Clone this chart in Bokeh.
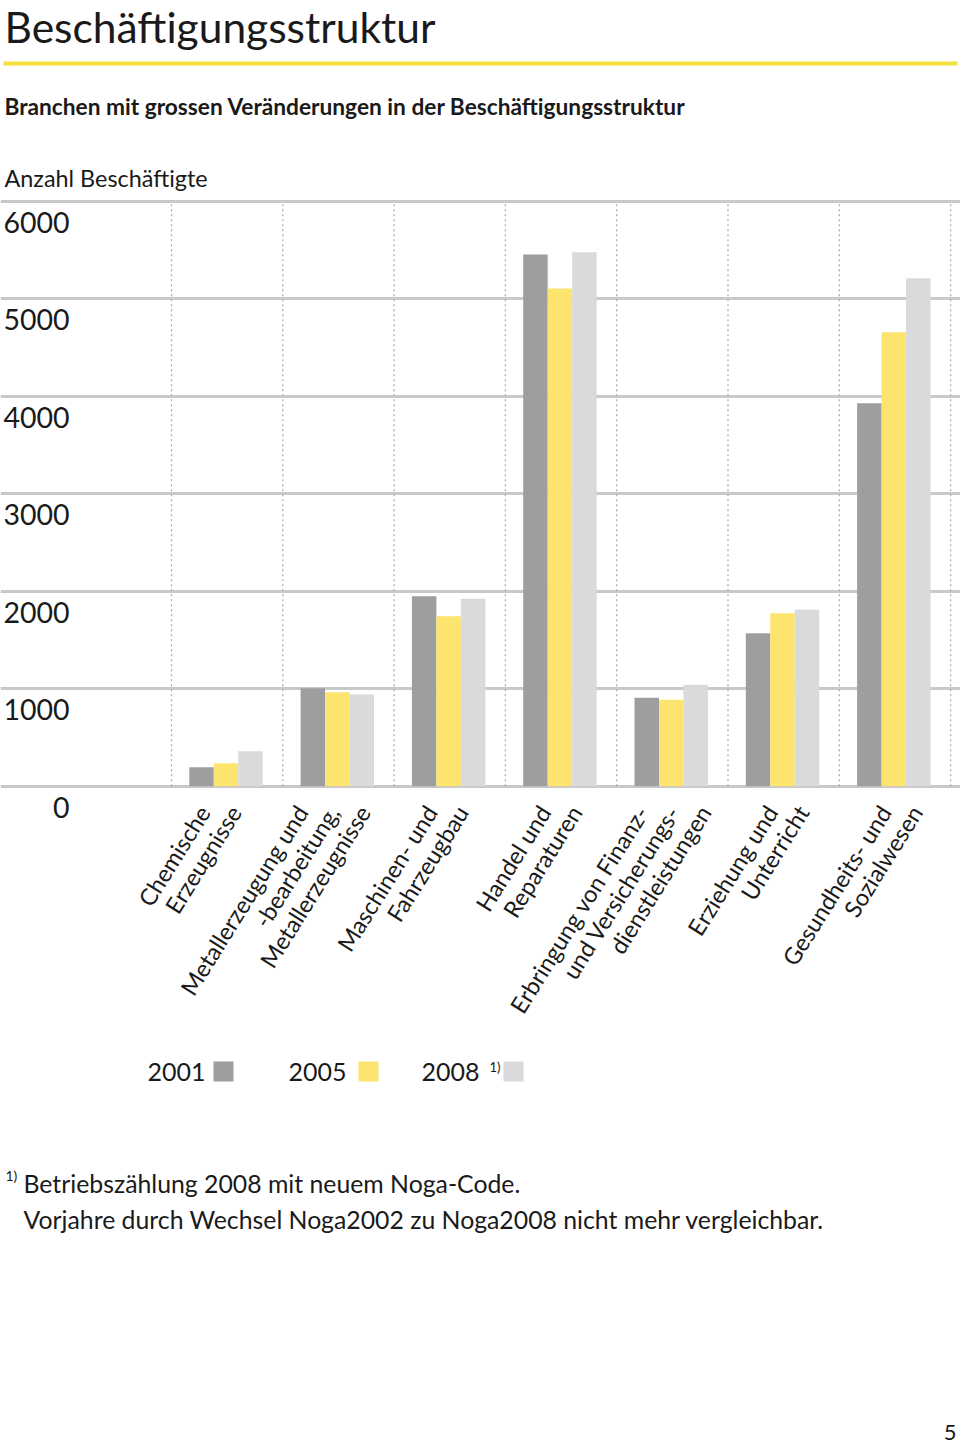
import math
from bokeh.plotting import figure
from bokeh.models import Range1d, Grid, FixedTicker
from bokeh.core.properties import value
from bokeh.embed import file_html
from bokeh.resources import INLINE

# ---------------- data ----------------
categories = [
    ["Chemische", "Erzeugnisse"],
    ["Metallerzeugung und", "-bearbeitung,", "Metallerzeugnisse"],
    ["Maschinen- und", "Fahrzeugbau"],
    ["Handel und", "Reparaturen"],
    ["Erbringung von Finanz-", "und Versicherungs-", "dienstleistungen"],
    ["Erziehung und", "Unterricht"],
    ["Gesundheits- und", "Sozialwesen"],
]
years = ["2001", "2005", "2008"]
v2001 = [195, 1005, 1949, 5453, 907, 1569, 3928]
v2005 = [236, 964, 1744, 5105, 886, 1774, 4656]
v2008 = [359, 940, 1922, 5477, 1040, 1809, 5210]
y_ticks = [0, 1000, 2000, 3000, 4000, 5000, 6000]
tick_labels = ["0", "1000", "2000", "3000", "4000", "5000", "6000"]

title = "Beschäftigungsstruktur"
subtitle = "Branchen mit grossen Veränderungen in der Beschäftigungsstruktur"
y_title = "Anzahl Beschäftigte"
foot1 = "Betriebszählung 2008 mit neuem Noga-Code."
foot2 = "Vorjahre durch Wechsel Noga2002 zu Noga2008 nicht mehr vergleichbar."

# ---------------- styles ----------------
colors = ["#9d9ea0", "#fde46f", "#d9dadb"]
FONT = value("Lato")
TXT = "#1a1a1a"

W, H = 960, 1444
PX_X0 = 171.0      # page x of category boundary 0
UX = 111.3         # page px per category
PY0 = 785.7        # page y of value 0
UY = 0.0975        # page px per value unit


def X(px):
    return (px - PX_X0) / UX


def Y(py):
    return (PY0 - py) / UY


p = figure(width=W, height=H, output_backend="svg", toolbar_location=None,
           x_range=Range1d(X(0), X(W)), y_range=Range1d(Y(H), Y(0)),
           x_axis_location=None, y_axis_location=None, min_border=0)
p.outline_line_color = None
p.grid.visible = False
p.background_fill_color = "white"
p.border_fill_color = "white"

# gridlines
p.add_layout(Grid(dimension=1, ticker=FixedTicker(ticks=y_ticks),
                  grid_line_color="#c9c9c9", grid_line_width=3))

# dotted category separators
n = len(categories)
divs = list(range(n + 1))
p.segment(x0=divs, y0=[0] * len(divs), x1=divs, y1=[max(y_ticks)] * len(divs),
          line_color="#adadad", line_width=1.3, line_dash="2 3")

# bars
bw = 0.22
series = [v2001, v2005, v2008]
for j, vals in enumerate(series):
    xs = [i + 0.5 - 0.01 + (j - 1) * bw for i in range(n)]
    p.vbar(x=xs, top=vals, bottom=0, width=bw, fill_color=colors[j], line_color=None)

# y tick labels (inside, below gridline)
p.text(x=[X(69)] * len(y_ticks), y=y_ticks, text=tick_labels, text_font=FONT,
       text_font_size="28.5px", text_color=TXT, text_align="right",
       text_baseline="middle", y_offset=21)

# rotated category labels
ang = math.radians(58)
lx, ly, lt = [], [], []
for i, lines in enumerate(categories):
    m = len(lines)
    for k, line in enumerate(lines):
        lx.append(i + 0.5 + (k - (m - 1) / 2) * 0.28 - 0.175 + 0.02 * i)
        ly.append(Y(800))
        lt.append(line)
p.text(x=lx, y=ly, text=lt, angle=ang, text_font=FONT, text_font_size="23.5px",
       text_color=TXT, text_align="right", text_baseline="top")

# title, rule, subtitle, y title
p.text(x=[X(4)], y=[Y(26)], text=[title], text_font=FONT, text_font_size="42.5px",
       text_color=TXT, text_baseline="middle")
p.segment(x0=[X(3)], y0=[Y(63)], x1=[X(957)], y1=[Y(63)],
          line_color="#f3df3c", line_width=4)
p.text(x=[X(4)], y=[Y(106)], text=[subtitle], text_font=FONT, text_font_size="22.7px",
       text_font_style="bold", text_color=TXT, text_baseline="middle")
p.text(x=[X(4)], y=[Y(177)], text=[y_title], text_font=FONT, text_font_size="23.4px",
       text_color=TXT, text_baseline="middle")

# legend: text then swatch
leg_text_x = [147, 288, 421]
leg_sw_x = [223, 368, 513]
p.text(x=[X(v) for v in leg_text_x], y=[Y(1071)] * 3, text=years, text_font=FONT,
       text_font_size="25px", text_color=TXT, text_baseline="middle")
p.rect(x=[X(v) for v in leg_sw_x], y=[Y(1071)] * 3, width=20, height=20,
       width_units="screen", height_units="screen", fill_color=colors, line_color=None)
p.text(x=[X(489)], y=[Y(1066)], text=["1)"], text_font=FONT, text_font_size="13px",
       text_color=TXT, text_baseline="middle")

# footnote
p.text(x=[X(5)], y=[Y(1175)], text=["1)"], text_font=FONT, text_font_size="14px",
       text_color=TXT, text_baseline="middle")
p.text(x=[X(23), X(23)], y=[Y(1183), Y(1219)], text=[foot1, foot2], text_font=FONT,
       text_font_size="24.8px", text_color=TXT, text_baseline="middle")

# page number
p.text(x=[X(956)], y=[Y(1432)], text=["5"], text_font=FONT, text_font_size="22px",
       text_color=TXT, text_baseline="middle", text_align="right")

open("out.html", "w").write(file_html(p, INLINE))
